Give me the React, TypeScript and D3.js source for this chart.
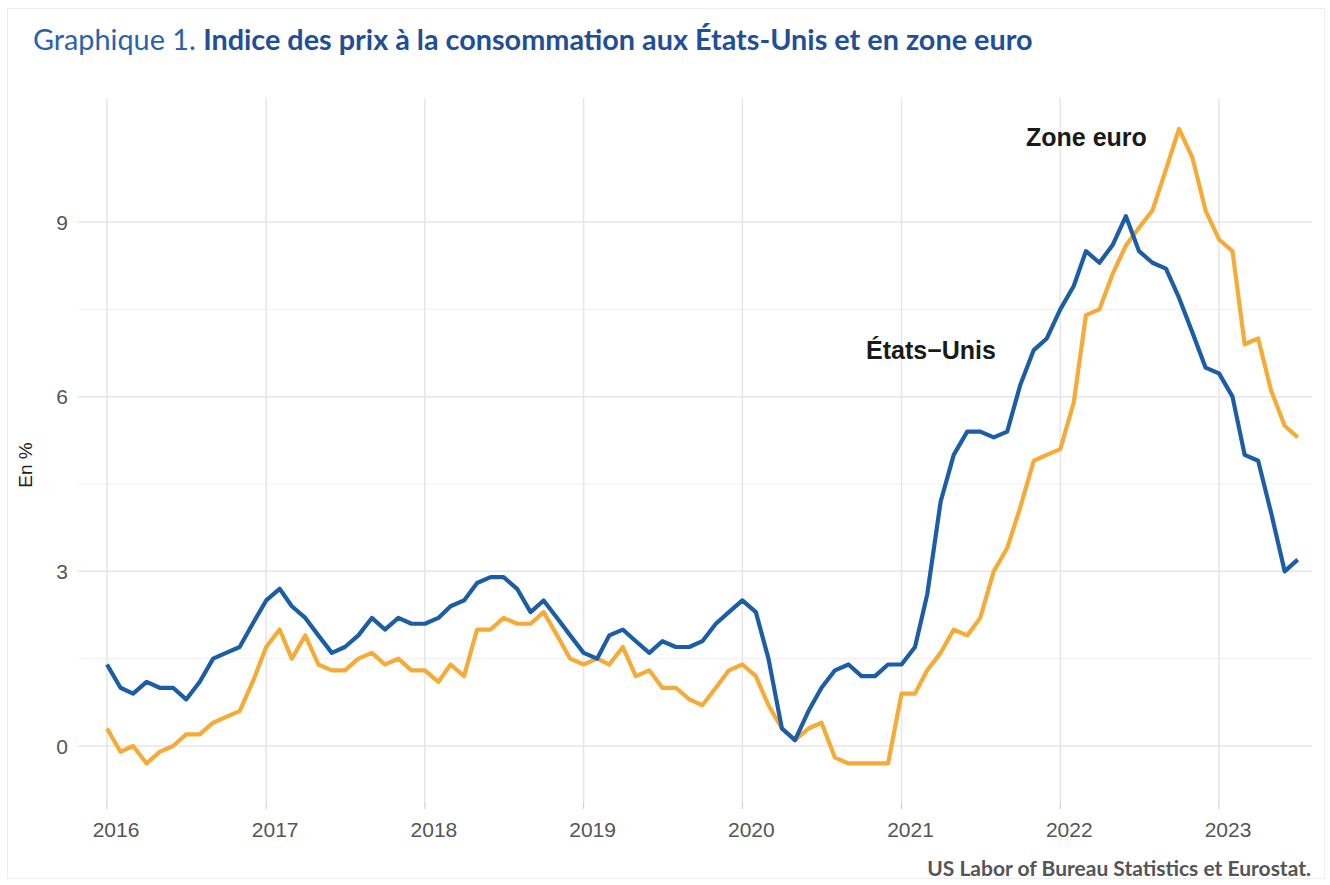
import React from "react";
import * as d3 from "d3";

const years = [2016, 2017, 2018, 2019, 2020, 2021, 2022, 2023];
const yTicks = [0, 3, 6, 9];
const yMinor = [1.5, 4.5, 7.5];

const usCpi = [
  1.4, 1.0, 0.9, 1.1, 1.0, 1.0, 0.8, 1.1, 1.5, 1.6, 1.7, 2.1,
  2.5, 2.7, 2.4, 2.2, 1.9, 1.6, 1.7, 1.9, 2.2, 2.0, 2.2, 2.1,
  2.1, 2.2, 2.4, 2.5, 2.8, 2.9, 2.9, 2.7, 2.3, 2.5, 2.2, 1.9,
  1.6, 1.5, 1.9, 2.0, 1.8, 1.6, 1.8, 1.7, 1.7, 1.8, 2.1, 2.3,
  2.5, 2.3, 1.5, 0.3, 0.1, 0.6, 1.0, 1.3, 1.4, 1.2, 1.2, 1.4,
  1.4, 1.7, 2.6, 4.2, 5.0, 5.4, 5.4, 5.3, 5.4, 6.2, 6.8, 7.0,
  7.5, 7.9, 8.5, 8.3, 8.6, 9.1, 8.5, 8.3, 8.2, 7.7, 7.1, 6.5,
  6.4, 6.0, 5.0, 4.9, 4.0, 3.0, 3.2,
];

const euroHicp = [
  0.3, -0.1, 0.0, -0.3, -0.1, 0.0, 0.2, 0.2, 0.4, 0.5, 0.6, 1.1,
  1.7, 2.0, 1.5, 1.9, 1.4, 1.3, 1.3, 1.5, 1.6, 1.4, 1.5, 1.3,
  1.3, 1.1, 1.4, 1.2, 2.0, 2.0, 2.2, 2.1, 2.1, 2.3, 1.9, 1.5,
  1.4, 1.5, 1.4, 1.7, 1.2, 1.3, 1.0, 1.0, 0.8, 0.7, 1.0, 1.3,
  1.4, 1.2, 0.7, 0.3, 0.1, 0.3, 0.4, -0.2, -0.3, -0.3, -0.3, -0.3,
  0.9, 0.9, 1.3, 1.6, 2.0, 1.9, 2.2, 3.0, 3.4, 4.1, 4.9, 5.0,
  5.1, 5.9, 7.4, 7.5, 8.1, 8.6, 8.9, 9.2, 9.9, 10.6, 10.1, 9.2,
  8.7, 8.5, 6.9, 7.0, 6.1, 5.5, 5.3,
];

const seriesLabels = { us: "États−Unis", euro: "Zone euro" };

const W = 1330;
const H = 885;

export default function App() {
  const x = d3
    .scaleTime()
    .domain([new Date(2016, 0, 1), new Date(2023, 0, 1)])
    .range([107, 1219]);
  const y = d3.scaleLinear().domain([0, 9]).range([746, 222]);
  const dateAt = (i: number) => new Date(2016, i, 1);

  const line = d3
    .line<number>()
    .x((_, i) => x(dateAt(i)))
    .y((d) => y(d))
    .curve(d3.curveLinear);

  const panel = { x0: 78, x1: 1312, y0: 98, y1: 802 };
  const axisFont = "'Liberation Sans', Arial, sans-serif";
  const titleFont = "Lato, 'Open Sans', sans-serif";

  return (
    <svg
      width={W}
      height={H}
      style={{ position: "absolute", left: 0, top: 0, background: "#fff" }}
    >
      <rect x={0} y={0} width={W} height={H} fill="#fff" />
      <rect x={7.5} y={8.5} width={1317} height={870} fill="none" stroke="#eeeeee" />
      <text x={33} y={50} fontFamily={titleFont} fontSize={28.8} fill="#2a63ad">
        <tspan>Graphique 1. </tspan>
        <tspan fontWeight="bold" fill="#1f4f98">
          Indice des prix à la consommation aux États-Unis et en zone euro
        </tspan>
      </text>

      {yMinor.map((v) => (
        <line key={"m" + v} x1={panel.x0} x2={panel.x1} y1={y(v)} y2={y(v)} stroke="#f2f2f2" strokeWidth={1.2} />
      ))}
      {yTicks.map((v) => (
        <line key={"g" + v} x1={panel.x0} x2={panel.x1} y1={y(v)} y2={y(v)} stroke="#e6e6e6" strokeWidth={1.5} />
      ))}
      {years.map((yr) => (
        <line
          key={"v" + yr}
          x1={x(new Date(yr, 0, 1))}
          x2={x(new Date(yr, 0, 1))}
          y1={panel.y0}
          y2={panel.y1}
          stroke="#e6e6e6"
          strokeWidth={1.5}
        />
      ))}
      {years.map((yr) => (
        <line
          key={"xt" + yr}
          x1={x(new Date(yr, 0, 1))}
          x2={x(new Date(yr, 0, 1))}
          y1={panel.y1}
          y2={panel.y1 + 7}
          stroke="#c8c8c8"
          strokeWidth={1}
        />
      ))}

      {yTicks.map((v) => (
        <text key={"yl" + v} x={68} y={y(v) + 7.5} textAnchor="end" fontFamily={axisFont} fontSize={21} fill="#555">
          {v}
        </text>
      ))}
      {years.map((yr) => (
        <text
          key={"xl" + yr}
          x={x(new Date(yr, 0, 1)) + 9}
          y={837}
          textAnchor="middle"
          fontFamily={axisFont}
          fontSize={21}
          fill="#555"
        >
          {yr}
        </text>
      ))}
      <text
        transform="translate(32,465) rotate(-90)"
        textAnchor="middle"
        fontFamily={axisFont}
        fontSize={19}
        fill="#222"
      >
        En %
      </text>

      <path d={line(euroHicp) || ""} fill="none" stroke="#f5ab35" strokeWidth={4.2} strokeLinejoin="round" />
      <path d={line(usCpi) || ""} fill="none" stroke="#1b5ea7" strokeWidth={4.2} strokeLinejoin="round" />

      <text x={1026} y={146} fontFamily={axisFont} fontSize={25} fontWeight="bold" fill="#1a1a1a">
        {seriesLabels.euro}
      </text>
      <text x={866} y={359} fontFamily={axisFont} fontSize={25} fontWeight="bold" fill="#1a1a1a">
        {seriesLabels.us}
      </text>

      <text x={1311} y={876} textAnchor="end" fontFamily={titleFont} fontSize={21} fontWeight="bold" fill="#555">
        US Labor of Bureau Statistics et Eurostat.
      </text>
    </svg>
  );
}
